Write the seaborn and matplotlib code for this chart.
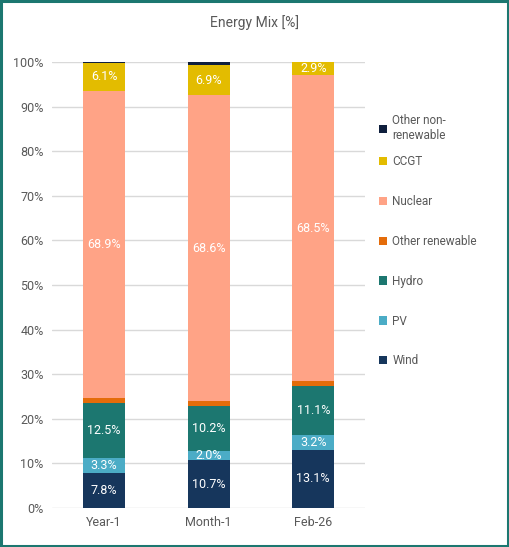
import matplotlib
matplotlib.use('Agg')
import matplotlib.pyplot as plt
from matplotlib.patches import Patch, Rectangle
import numpy as np
import pandas as pd
import seaborn as sns

periods = ['Year-1', 'Month-1', 'Feb-26']
sources = ['Wind', 'PV', 'Hydro', 'Other renewable', 'Nuclear', 'CCGT', 'Other non-\nrenewable']
wind = [7.8, 10.7, 13.1]
pv = [3.3, 2.0, 3.2]
hydro = [12.5, 10.2, 11.1]
other_ren = [1.1, 1.0, 1.1]
nuclear = [68.9, 68.6, 68.5]
ccgt = [6.1, 6.9, 2.9]
other_nonren = [0.3, 0.6, 0.1]
colors = ['#16365C', '#4BACC6', '#1C7770', '#E46C0A', '#FFA386', '#E3BC00', '#0F1F3D']
labelled = ['Wind', 'PV', 'Hydro', 'Nuclear', 'CCGT']

sns.set_style('white')
plt.rcParams['font.family'] = ['Roboto', 'DejaVu Sans']
grey = '#595959'

values = np.array([wind, pv, hydro, other_ren, nuclear, ccgt, other_nonren])
cum = values.cumsum(axis=0)
df = pd.DataFrame({'period': periods})

fig = plt.figure(figsize=(5.09, 5.47), dpi=100)
ax = fig.add_axes([0.102, 0.0713, 0.616, 0.8154])

# stacked bars: draw cumulative totals from the top down
for i in range(len(sources) - 1, -1, -1):
    df['cum'] = cum[i]
    sns.barplot(data=df, x='period', y='cum', color=colors[i], width=0.4,
                saturation=1, linewidth=0, ax=ax, zorder=3)

for i, src in enumerate(sources):
    if src not in labelled:
        continue
    for j in range(len(periods)):
        mid = cum[i][j] - values[i][j] / 2
        ax.text(j, mid, f'{values[i][j]:.1f}%', ha='center', va='center',
                color='white', fontsize=9, zorder=4)

ax.set_ylim(0, 100)
ax.set_xlim(-0.5, 2.5)
ax.set_yticks(range(0, 101, 10))
ax.set_yticklabels([f'{v}%' for v in range(0, 101, 10)])
ax.yaxis.grid(True, color='#D9D9D9', linewidth=1, zorder=0)
ax.set_axisbelow(True)
ax.tick_params(axis='both', colors=grey, labelsize=9, length=0, pad=6)
ax.set_xlabel('')
ax.set_ylabel('')
for s in ax.spines.values():
    s.set_visible(False)

fig.text(0.5, 0.958, 'Energy Mix [%]', ha='center', va='center', fontsize=10, color=grey)

# legend: two-line entry on its own, the rest evenly spaced below
order = list(range(len(sources) - 1, -1, -1))
leg_kw = dict(loc='upper left', frameon=False, fontsize=8.5, handlelength=0.7,
              handleheight=0.7, handletextpad=0.4, borderaxespad=0, borderpad=0)
top = order[:1]
rest = order[1:]
leg1 = fig.legend([Patch(facecolor=colors[i], edgecolor='none') for i in top],
                  [sources[i] for i in top], bbox_to_anchor=(0.745, 0.792),
                  labelspacing=2.27, **leg_kw)
leg2 = fig.legend([Patch(facecolor=colors[i], edgecolor='none') for i in rest],
                  [sources[i] for i in rest], bbox_to_anchor=(0.745, 0.716),
                  labelspacing=2.27, **leg_kw)
for leg in (leg1, leg2):
    for t in leg.get_texts():
        t.set_color(grey)

fig.patches.append(Rectangle((0.002, 0.002), 0.996, 0.996, transform=fig.transFigure,
                             fill=False, edgecolor='#1C7770', linewidth=2.2))

fig.savefig('out.png', dpi=100)
